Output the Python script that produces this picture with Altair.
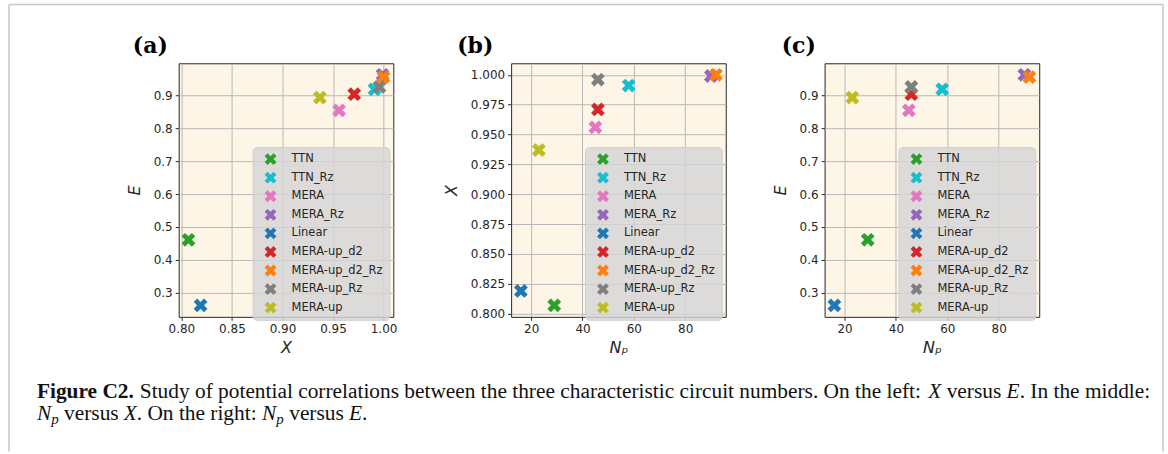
import altair as alt
import pandas as pd

# Circuit families and their three characteristic numbers
circuits = ["TTN", "TTN_Rz", "MERA", "MERA_Rz", "Linear",
            "MERA-up_d2", "MERA-up_d2_Rz", "MERA-up_Rz", "MERA-up"]
colors = ["#2ca02c", "#17becf", "#e377c2", "#9467bd", "#1f77b4",
          "#d62728", "#ff7f0e", "#7f7f7f", "#bcbd22"]
expressibility = [0.807, 0.991, 0.956, 0.999, 0.819, 0.971, 1.000, 0.996, 0.937]   # X
entanglement = [0.461, 0.918, 0.854, 0.962, 0.262, 0.903, 0.955, 0.925, 0.893]     # E
n_params = [29, 58, 45, 90, 16, 46, 92, 46, 23]                                   # N_p

x_ticks = [0.80, 0.85, 0.90, 0.95, 1.00]
e_ticks = [0.3, 0.4, 0.5, 0.6, 0.7, 0.8, 0.9]
np_ticks = [20, 40, 60, 80]
xv_ticks = [0.800, 0.825, 0.850, 0.875, 0.900, 0.925, 0.950, 0.975, 1.000]

df = pd.DataFrame({"circuit": circuits, "X": expressibility,
                   "E": entanglement, "Np": n_params})

# filled "X" marker outline (matplotlib style) in the [-1, 1] symbol box
X_PATH = "M-0.5,-1L0,-0.5L0.5,-1L1,-0.5L0.5,0L1,0.5L0.5,1L0,0.5L-0.5,1L-1,0.5L-0.5,0L-1,-0.5Z"
W, H = 215, 254
OX, OY = 178, 62          # top-left corner of the first panel on the page
PAGE_W, PAGE_H = 1168, 454
FONT = "DejaVu Sans"
SERIF = "Liberation Serif"
ONE = alt.Data(values=[{}])


def padded(vals, frac=0.05):
    lo, hi = min(vals), max(vals)
    m = (hi - lo) * frac
    return [lo - m, hi + m]


def scatter(xcol, ycol, xtitle, ytitle, xticks, yticks, xfmt, yfmt):
    return alt.Chart(df).mark_point(
        shape=X_PATH, filled=True, size=190, opacity=1, strokeWidth=0
    ).encode(
        x=alt.X(f"{xcol}:Q",
                scale=alt.Scale(domain=padded(df[xcol]), nice=False, zero=False),
                axis=alt.Axis(title=xtitle, values=xticks, format=xfmt,
                              titlePadding=5)),
        y=alt.Y(f"{ycol}:Q",
                scale=alt.Scale(domain=padded(df[ycol]), nice=False, zero=False),
                axis=alt.Axis(title=ytitle, values=yticks, format=yfmt,
                              titlePadding=11)),
        color=alt.Color("circuit:N",
                        scale=alt.Scale(domain=circuits, range=colors),
                        legend=alt.Legend(title=None, orient="none",
                                          legendX=74, legendY=84,
                                          symbolType=X_PATH)),
    ).properties(width=W, height=H)


def text_piece(txt, x, y, size=21, weight="normal", style="normal",
               font=SERIF, color="#111111"):
    # x, y are page pixels; converted to the first panel's frame
    return alt.Chart(ONE).mark_text(
        align="left", baseline="alphabetic", font=font, fontSize=size,
        fontWeight=weight, fontStyle=style, color=color
    ).encode(x=alt.value(x - OX), y=alt.value(y - OY), text=alt.value(txt))


def tag(label, dx):
    # panel letter, placed relative to the panel's own top-left corner
    return alt.Chart(ONE).mark_text(
        align="left", baseline="alphabetic", font="DejaVu Serif", fontSize=22,
        fontWeight="bold", color="#000000"
    ).encode(x=alt.value(dx), y=alt.value(-10), text=alt.value(label))


# caption pieces: (text, x, baseline, size, weight, style)
caption = [
    ("Figure C2.", 36, 397, 21.4, "bold", "normal"),
    ("Study of potential correlations between the three characteristic circuit numbers. On the left:",
     139, 397, 21.4, "normal", "normal"),
    ("X", 928.8, 397, 21.4, "normal", "italic"),
    ("versus", 947.3, 397, 21.4, "normal", "normal"),
    ("E", 1007.3, 397, 21.4, "normal", "italic"),
    (". In the middle:", 1020.4, 397, 21.4, "normal", "normal"),
    ("N", 36, 419, 21.4, "normal", "italic"),
    ("p", 50.3, 423.5, 15, "normal", "italic"),
    ("versus", 63.2, 419, 21.4, "normal", "normal"),
    ("X", 123, 419, 21.4, "normal", "italic"),
    (". On the right:", 136, 419, 21.4, "normal", "normal"),
    ("N", 261.5, 419, 21.4, "normal", "italic"),
    ("p", 275.8, 423.5, 15, "normal", "italic"),
    ("versus", 288.7, 419, 21.4, "normal", "normal"),
    ("E", 348.5, 419, 21.4, "normal", "italic"),
    (".", 361.5, 419, 21.4, "normal", "normal"),
]

# invisible sheet that spans the whole page, so the layout bounds equal the page
sheet = alt.Chart(ONE).mark_rect(opacity=0, strokeWidth=0).encode(
    x=alt.value(-OX), x2=alt.value(PAGE_W - OX),
    y=alt.value(-OY), y2=alt.value(PAGE_H - OY))

# light grey page frame (left, top and right edges)
frame_lines = [
    (8, 8, 3, PAGE_H - 3),
    (8, 1164, 3, 3),
    (1164, 1164, 3, PAGE_H - 3),
]
frame = [
    alt.Chart(ONE).mark_rule(color="#c8c8c8", strokeWidth=1.5).encode(
        x=alt.value(x1 - OX), x2=alt.value(x2 - OX),
        y=alt.value(y1 - OY), y2=alt.value(y2 - OY))
    for x1, x2, y1, y2 in frame_lines
]

pa = alt.layer(
    sheet, *frame,
    scatter("X", "E", "X", "E", x_ticks, e_ticks, ".2f", ".1f"),
    tag("(a)", -46),
    *[text_piece(*c[:3], size=c[3], weight=c[4], style=c[5]) for c in caption],
)
pb = alt.layer(
    scatter("Np", "X", "Nₚ", "X", np_ticks, xv_ticks, "d", ".3f"),
    tag("(b)", -54),
)
pc = alt.layer(
    scatter("Np", "E", "Nₚ", "E", np_ticks, e_ticks, "d", ".1f"),
    tag("(c)", -43),
)


def spacer(w):
    return alt.Chart(ONE).mark_point(opacity=0).encode(
        x=alt.value(0), y=alt.value(0)
    ).properties(width=w, height=H,
                 view=alt.ViewBackground(fillOpacity=0, strokeOpacity=0))


chart = alt.hconcat(
    pa, spacer(118), pb, spacer(99), pc, spacing=0, bounds="flush"
).resolve_scale(
    color="independent"
).resolve_legend(
    color="independent"
).properties(
    padding=0,
    background="white",
).configure_view(
    fill="#fdf5e6", stroke="#262626", strokeWidth=1
).configure_axis(
    labelFont=FONT, labelFontSize=12, labelColor="#262626", labelPadding=3,
    tickColor="#262626", tickSize=3.5, tickWidth=1, domain=False,
    grid=True, gridColor="#b9b9b9", gridWidth=1,
    titleFont=FONT, titleFontSize=16, titleFontWeight="normal",
    titleFontStyle="italic", titleColor="#262626",
).configure_legend(
    labelFont=FONT, labelFontSize=11.5, labelColor="#262626",
    padding=6, symbolOffset=6, labelOffset=15, rowPadding=6.6,
    symbolSize=140, symbolStrokeWidth=0,
    fillColor="rgba(213,213,213,0.82)", strokeColor="#cfcfcf", cornerRadius=4,
)

chart.save("out.html", embed_options={"renderer": "svg", "actions": False})
